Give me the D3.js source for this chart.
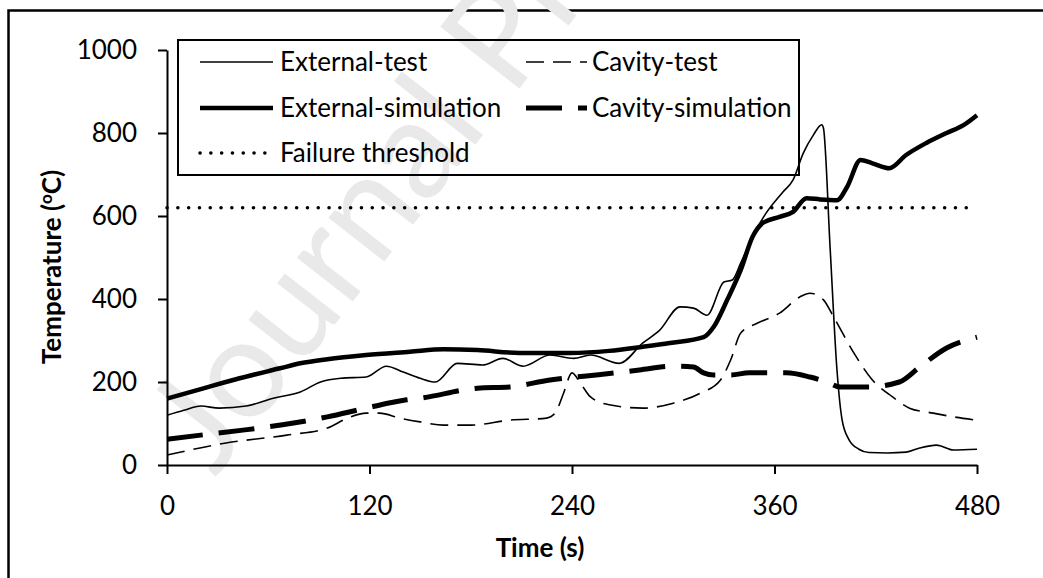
<!DOCTYPE html>
<html>
<head>
<meta charset="utf-8">
<script src="https://cdn.jsdelivr.net/npm/d3@7"></script>
<style>
body { margin: 0; background: #fff; }
svg { display: block; font-family: Lato, "DejaVu Sans", sans-serif; }
</style>
</head>
<body>
<svg id="chart" width="1043" height="578"></svg>
<script>
// values: [time (s), temperature (oC)]
var externalTest = [[0,120],[10,132],[20,142],[31,137],[47,142],[63,161],[79,176],[91,200],[103,209],[118,212],
    [130,238],[140,224],[150,209],[159,200],[172,245],[187,241],[199,257],[211,238],[227,265],[241,257],[251,265],
    [268,245],[282,294],[292,325],[304,381],[312,378],[320,361],[330,441],[335,446],[340,487],[347,550],[355,607],
    [365,658],[371,687],[377,751],[383,795],[388,820],[389,812],[393,520],[397,230],[400,110],[404,62],[410,38],
    [416,30],[427,29],[438,31],[446,41],[456,48],[466,36],[480,38]];
var cavityTest = [[0,24],[35,53],[71,72],[95,89],[107,113],[118,125],[126,125],[138,113],[150,104],[164,96],
    [180,96],[203,108],[225,113],[230,125],[235,173],[240,222],[245,197],[251,164],[262,145],[282,137],[300,149],
    [316,173],[328,205],[334,253],[340,318],[350,342],[363,366],[375,405],[381,414],[389,398],[395,357],[407,270],
    [418,205],[430,164],[440,137],[454,125],[466,116],[480,108]];
var externalSim = [[0,160],[20,183],[43,209],[67,233],[79,245],[95,255],[118,265],[144,273],[164,279],[184,277],
    [209,270],[239,270],[262,275],[282,285],[298,294],[318,308],[324,333],[332,398],[340,470],[347,550],[353,583],
    [363,598],[371,610],[379,643],[387,640],[397,638],[403,670],[411,735],[418,727],[428,715],[438,747],[450,776],
    [462,800],[472,819],[480,843]];
var cavitySim = [[0,62],[20,72],[45,84],[75,101],[95,116],[118,137],[142,157],[150,161],[184,185],[203,188],
    [227,205],[247,214],[270,224],[280,229],[300,238],[312,236],[318,222],[324,217],[334,217],[345,222],[367,222],
    [381,212],[391,200],[399,188],[415,188],[434,200],[446,236],[462,282],[480,308]];
var threshold = [[0,620],[480,620]];

var xTicks = [0,120,240,360,480];
var yTicks = [0,200,400,600,800,1000];

// series styling + legend slots
var series = [
    {name: "Failure threshold", data: threshold, width: 3.5, dash: "0.1,10.7", cap: "round", col: 0, row: 2},
    {name: "Cavity-test", data: cavityTest, width: 1.6, dash: "18,9", cap: "butt", col: 1, row: 0},
    {name: "Cavity-simulation", data: cavitySim, width: 5, dash: "36,16", cap: "butt", col: 1, row: 1},
    {name: "External-test", data: externalTest, width: 1.6, dash: null, cap: "butt", col: 0, row: 0},
    {name: "External-simulation", data: externalSim, width: 4.5, dash: null, cap: "butt", col: 0, row: 1}
];

var svg = d3.select("#chart");

// outer frame (cut off by the picture on the right and bottom)
svg.append("rect").attr("x", 8.5).attr("y", 10.5).attr("width", 1100).attr("height", 700)
    .attr("fill", "none").attr("stroke", "#000").attr("stroke-width", 2.5);

// journal watermark
svg.append("text").attr("transform", "translate(215,478) rotate(-52)")
    .attr("font-size", 140).attr("fill", "#e9e9e9").text("Journal Pre-proof");

var x = d3.scaleLinear().domain([0, 480]).range([167, 977]);
var y = d3.scaleLinear().domain([0, 1000]).range([465, 50]);

var xAxis = svg.append("g").attr("transform", "translate(0,465)")
    .call(d3.axisBottom(x).tickValues(xTicks).tickFormat(d3.format("d"))
        .tickSize(9).tickSizeOuter(0).tickPadding(23));
var yAxis = svg.append("g").attr("transform", "translate(167,0)")
    .call(d3.axisLeft(y).tickValues(yTicks).tickFormat(d3.format("d"))
        .tickSize(9).tickSizeOuter(0).tickPadding(21));

[xAxis, yAxis].forEach(function(a) {
    a.attr("font-family", null).attr("font-size", null);
    a.selectAll("path, line").attr("stroke", "#000").attr("stroke-width", 2);
    a.selectAll("text").attr("font-size", 26).attr("fill", "#000");
});

// axis titles
svg.append("text").attr("x", 540).attr("y", 557).attr("text-anchor", "middle")
    .attr("font-size", 26).attr("font-weight", "bold").text("Time (s)");

var yTitle = svg.append("text").attr("transform", "translate(61,267) rotate(-90)")
    .attr("text-anchor", "middle").attr("font-size", 26).attr("font-weight", "bold");
yTitle.append("tspan").text("Temperature (");
yTitle.append("tspan").attr("font-size", 17).attr("dy", -9).text("o");
yTitle.append("tspan").attr("dy", 9).text("C)");

var line = d3.line().x(d => x(d[0])).y(d => y(d[1])).curve(d3.curveMonotoneX);

svg.append("g").selectAll("path").data(series).join("path")
    .attr("d", d => line(d.data))
    .attr("fill", "none").attr("stroke", "#000")
    .attr("stroke-width", d => d.width)
    .attr("stroke-dasharray", d => d.dash)
    .attr("stroke-linecap", d => d.cap)
    .attr("stroke-linejoin", "round");

// legend
var legend = svg.append("g");
legend.append("rect").attr("x", 178).attr("y", 40).attr("width", 621).attr("height", 135)
    .attr("fill", "none").attr("stroke", "#000").attr("stroke-width", 2);

var rowY = [62, 108, 153];
var lineX = [[200, 273], [526, 587]];
var textX = [280, 592];

var items = legend.selectAll("g.item").data(series).join("g").attr("class", "item");
items.append("line")
    .attr("x1", d => lineX[d.col][0]).attr("x2", d => lineX[d.col][1])
    .attr("y1", d => rowY[d.row]).attr("y2", d => rowY[d.row])
    .attr("stroke", "#000").attr("stroke-width", d => d.width)
    .attr("stroke-dasharray", d => d.dash).attr("stroke-linecap", d => d.cap);
items.append("text")
    .attr("x", d => textX[d.col]).attr("y", d => rowY[d.row])
    .attr("dy", "0.35em").attr("font-size", 26).text(d => d.name);
</script>
</body>
</html>
